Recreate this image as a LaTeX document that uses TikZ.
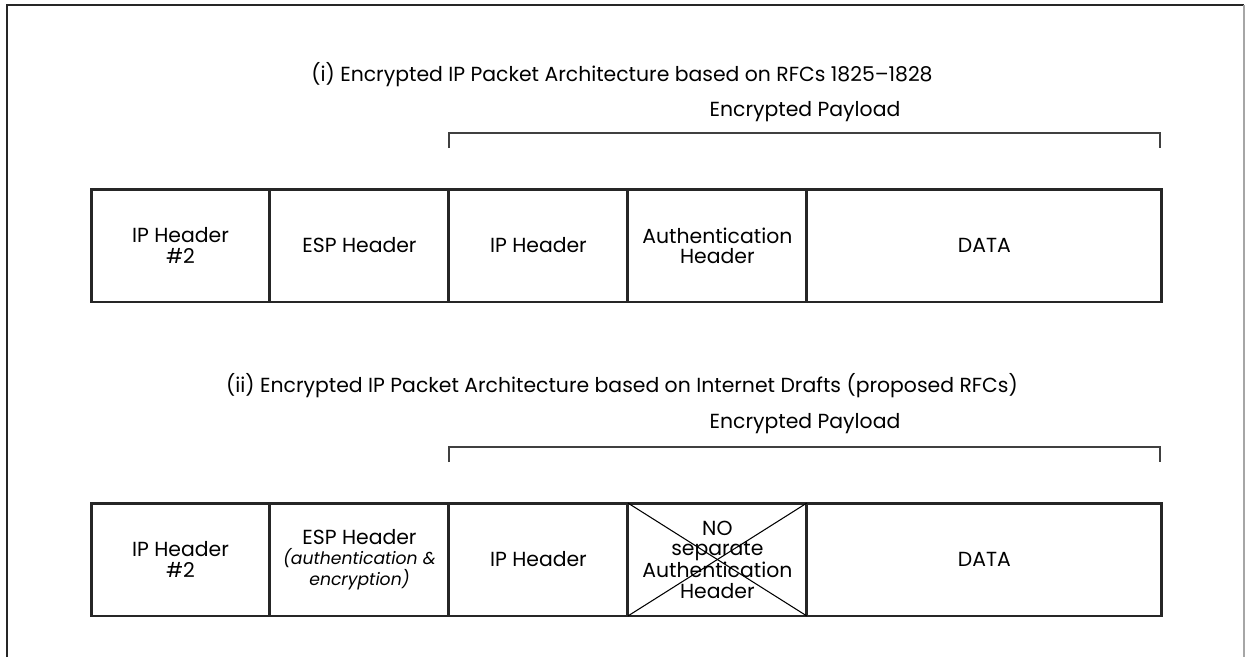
\documentclass[tikz,border=0pt]{standalone}
\usepackage{fontspec}
\setmainfont{Poppins}
\usetikzlibrary{positioning}
\newcommand{\notefont}{\fontsize{9.8}{11.5}\selectfont\itshape}

\begin{document}
\begin{tikzpicture}[x=0.02cm,y=-0.02cm,
	cell/.style={draw=black!85,line width=1.7pt,outer sep=0pt,inner sep=0pt,
		minimum width=3.58cm,minimum height=2.26cm,align=center,
		font=\fontsize{11.6}{11.5}\selectfont},
	wide/.style={cell,minimum width=7.1cm},
	title/.style={font=\fontsize{11.6}{14}\selectfont},
	brace/.style={draw=black!75,line width=0.6pt}]
	\useasboundingbox (0,0) rectangle (1245,657);
	% frame
	\draw[black!85,line width=1.5pt] (7,657) -- (7,5) -- (1244,5);
	\draw[black!35,line width=0.6pt] (1244,5) -- (1244,657);
	% (i) packet
	\node[title] (ti) at (622,75) {(i) Encrypted IP Packet Architecture based on RFCs 1825--1828};
	\node[title] (pli) at (805,112) {Encrypted Payload};
	\coordinate (pla) at (449,133);
	\coordinate (plb) at (1160,133);
	\draw[brace] (pla) ++(0,15) -- (pla) -- (plb) -- ++(0,15);
	\node[cell] (iph2a) at (180.5,245.5) {IP Header\\\#2};
	\node[cell,right=0pt of iph2a] (espa) {ESP Header};
	\node[cell,right=0pt of espa] (ipha) {IP Header};
	\node[cell,right=0pt of ipha] (autha) {Authentication\\Header};
	\node[wide,right=0pt of autha] (dataa) {DATA};
	% (ii) packet
	\node[title] (tii) at (622,386) {(ii) Encrypted IP Packet Architecture based on Internet Drafts (proposed RFCs)};
	\node[title] (plii) at (805,424) {Encrypted Payload};
	\coordinate (plc) at (449,447);
	\coordinate (pld) at (1160,447);
	\draw[brace] (plc) ++(0,15) -- (plc) -- (pld) -- ++(0,15);
	\node[cell] (iph2b) at (180.5,559.5) {IP Header\\\#2};
	\node[cell,right=0pt of iph2b] (espb) {ESP Header\\{\notefont (authentication \&}\\{\notefont encryption)}};
	\node[cell,right=0pt of espb] (iphb) {IP Header};
	\node[cell,right=0pt of iphb] (authb) {NO\\separate\\Authentication\\Header};
	\node[wide,right=0pt of authb] (datab) {DATA};
	\draw[line width=0.6pt] (authb.north west) -- (authb.south east);
	\draw[line width=0.6pt] (authb.north east) -- (authb.south west);
\end{tikzpicture}
\end{document}
